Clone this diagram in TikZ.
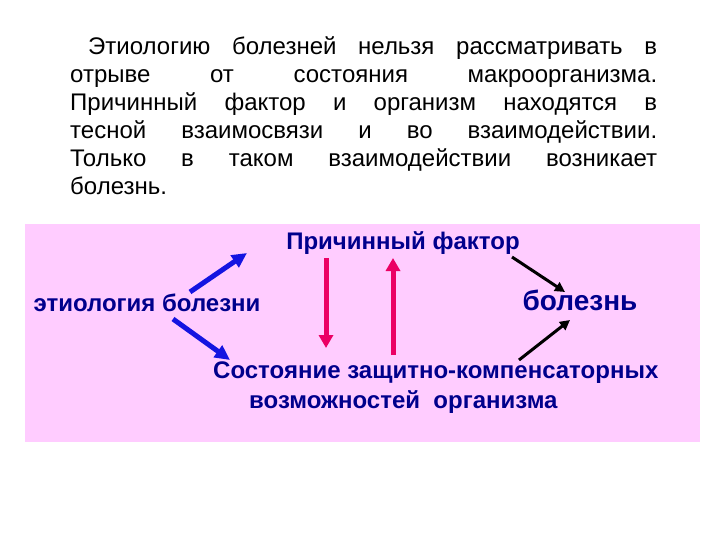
\documentclass[tikz,border=0pt]{standalone}
\usepackage{fontspec}
\setmainfont{Liberation Sans}
\usetikzlibrary{arrows.meta}
\definecolor{pinkbg}{RGB}{255,204,255}
\definecolor{navytext}{RGB}{0,0,140}
\definecolor{arrblue}{RGB}{20,20,225}
\definecolor{arrred}{RGB}{235,0,100}

\begin{document}
\begin{tikzpicture}[x=1pt,y=-1pt,
  lbl/.style={text=navytext,inner sep=0pt,font=\fontsize{24}{30}\selectfont\bfseries},
  bluearr/.style={draw=arrblue,line width=5pt,-{Triangle[length=15pt,width=14pt]}},
  redarr/.style={draw=arrred,line width=5pt,-{Triangle[length=13pt,width=14pt]}},
  blackarr/.style={draw=black,line width=3pt,-{Triangle[length=10pt,width=10pt]}}]
\useasboundingbox (0,0) rectangle (720,540);
\fill[white] (0,0) rectangle (720,540);

% text above the diagram
\node[anchor=north west,inner sep=0pt,text width=587pt,align=justify,
      font=\fontsize{24}{28}\selectfont] (para) at (70,36)
  {\hspace*{18pt}Этиологию болезней нельзя рассматривать в\linebreak
   отрыве от состояния макроорганизма.\linebreak
   Причинный фактор и организм находятся в\linebreak
   тесной взаимосвязи и во взаимодействии.\linebreak
   Только в таком взаимодействии возникает\linebreak
   болезнь.};

% diagram
\fill[pinkbg] (25,224) rectangle (700,442);

\node[lbl] (factor) at (403,243) {Причинный фактор};
\node[lbl] (etio) at (147,303) {этиология болезни};
\node[lbl,font=\fontsize{28}{32}\selectfont\bfseries] (disease) at (580,300) {болезнь};
\node[lbl,anchor=north west,align=left] (state) at (213,362)
  {Состояние защитно-компенсаторных\\\hspace*{36pt}возможностей\ \ организма};

\coordinate (e1) at (190,292);
\coordinate (f1) at (247,253);
\coordinate (e2) at (173,319);
\coordinate (s1) at (230,360);
\coordinate (f2) at (326,258);
\coordinate (s2) at (326,348);
\coordinate (s3) at (393,355);
\coordinate (f3) at (393,258);
\coordinate (f4) at (512,257);
\coordinate (d1) at (565,292);
\coordinate (s4) at (519,360);
\coordinate (d2) at (570,320);

\draw[bluearr] (e1) -- (f1);
\draw[bluearr] (e2) -- (s1);
\draw[redarr] (f2) -- (s2);
\draw[redarr] (s3) -- (f3);
\draw[blackarr] (f4) -- (d1);
\draw[blackarr] (s4) -- (d2);
\end{tikzpicture}
\end{document}
